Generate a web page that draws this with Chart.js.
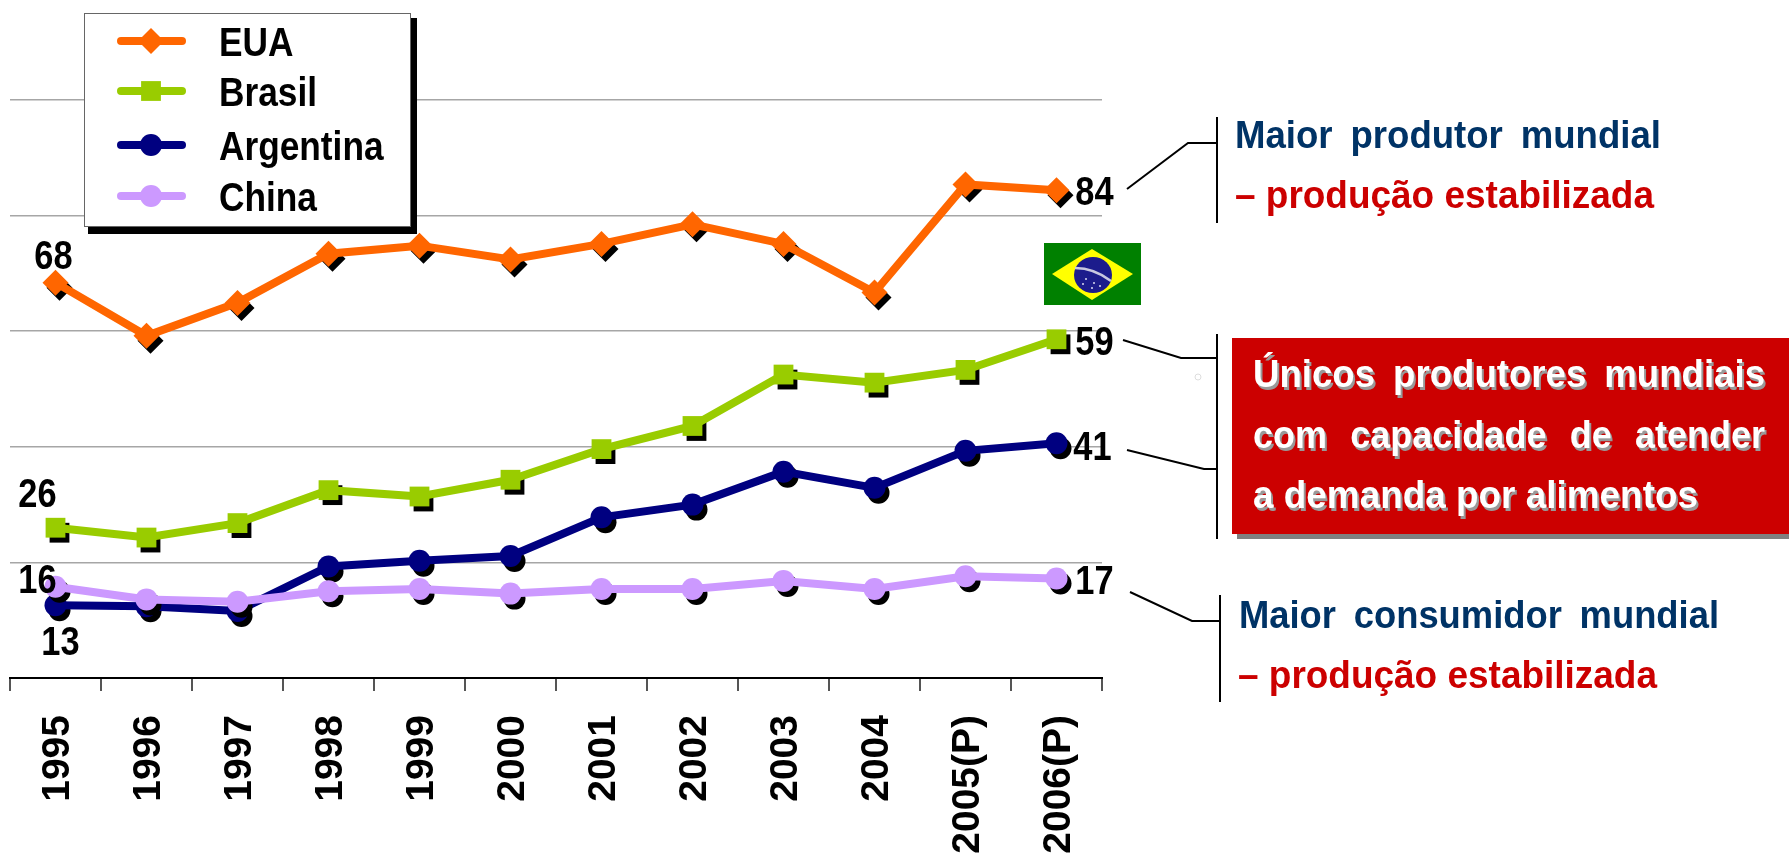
<!DOCTYPE html>
<html>
<head>
<meta charset="utf-8">
<title>Produção de soja</title>
<script src="https://cdn.jsdelivr.net/npm/chart.js@4"></script>
<style>
  html, body { margin: 0; padding: 0; background: #fff; overflow: hidden; }
  #wrap { position: relative; width: 1789px; height: 857px; }
  #chart { position: absolute; left: 0; top: 0; }
  #notes { position: absolute; left: 0; top: 0; }
  #notes text { font-family: "Liberation Sans", Arial, sans-serif; font-weight: bold; font-size: 38px; }
</style>
</head>
<body>
<div id="wrap">
  <canvas id="chart" width="1789" height="857"></canvas>
  <svg id="notes" width="1789" height="857" xmlns="http://www.w3.org/2000/svg">
    <!-- bandeira -->
    <rect x="1044" y="243" width="97" height="62" fill="#008000"/>
    <polygon points="1092,249 1133,274 1092,300 1052,274" fill="#ffff00"/>
    <ellipse cx="1093" cy="275" rx="19" ry="18" fill="#1c1c8c"/>
    <path d="M1075 268 Q1094 268 1111 281" stroke="#c8c8e0" stroke-width="2.5" fill="none"/>
    <g fill="#d8d8f0">
      <circle cx="1086" cy="279" r="1"/><circle cx="1094" cy="283" r="1"/><circle cx="1100" cy="286" r="1"/>
      <circle cx="1092" cy="288" r="1"/><circle cx="1083" cy="284" r="1"/>
    </g>

    <!-- ligacoes -->
    <g fill="none" stroke="#000" stroke-width="2">
      <path d="M1217 117V223M1127 189L1188 143H1217"/>
      <path d="M1217 334V539M1123 340L1181 358H1217M1127 450L1204 469H1217"/>
      <path d="M1220 595V702M1130 592L1192 621H1220"/>
    </g>
    <circle cx="1198" cy="377" r="3" fill="#fff" stroke="#ddd"/>

    <!-- caixa vermelha -->
    <rect x="1237" y="343" width="552" height="196" fill="#808080"/>
    <rect x="1232" y="338" width="557" height="196" fill="#cc0000"/>

    <text x="1235" y="148" fill="#003366" word-spacing="8" textLength="426" lengthAdjust="spacingAndGlyphs">Maior produtor mundial</text>
    <text x="1235" y="208" fill="#cc0000" textLength="419" lengthAdjust="spacingAndGlyphs">– produção estabilizada</text>

    <g fill="#999" transform="translate(2 3)">
      <text x="1253" y="387" word-spacing="8" textLength="512" lengthAdjust="spacingAndGlyphs">Únicos produtores mundiais</text>
      <text x="1253" y="448" word-spacing="14" textLength="512" lengthAdjust="spacingAndGlyphs">com capacidade de atender</text>
      <text x="1253" y="508" textLength="445" lengthAdjust="spacingAndGlyphs">a demanda por alimentos</text>
    </g>
    <g fill="#fff">
      <text x="1253" y="387" word-spacing="8" textLength="512" lengthAdjust="spacingAndGlyphs">Únicos produtores mundiais</text>
      <text x="1253" y="448" word-spacing="14" textLength="512" lengthAdjust="spacingAndGlyphs">com capacidade de atender</text>
      <text x="1253" y="508" textLength="445" lengthAdjust="spacingAndGlyphs">a demanda por alimentos</text>
    </g>

    <text x="1239" y="628" fill="#003366" word-spacing="8" textLength="480" lengthAdjust="spacingAndGlyphs">Maior consumidor mundial</text>
    <text x="1238" y="688" fill="#cc0000" textLength="419" lengthAdjust="spacingAndGlyphs">– produção estabilizada</text>
  </svg>
</div>

<script>
const years = ['1995', '1996', '1997', '1998', '1999', '2000', '2001', '2002', '2003', '2004', '2005(P)', '2006(P)'];

const eua = [68.4, 59.2, 64.9, 73.4, 74.8, 72.4, 75.1, 78.5, 75.1, 66.7, 85.4, 84.4];
const brasil = [26, 24.3, 26.8, 32.5, 31.4, 34.3, 39.6, 43.6, 52.5, 51.1, 53.3, 58.6];
const argentina = [12.6, 12.4, 11.6, 19.3, 20.3, 21.1, 27.8, 30, 35.7, 32.9, 39.3, 40.6];
const china = [15.8, 13.6, 13.2, 15, 15.4, 14.6, 15.4, 15.4, 16.8, 15.4, 17.6, 17.2];

const yTicks = [0, 20, 40, 60, 80, 100];

const FONT = '"Liberation Sans", Arial, sans-serif';

function series(label, data, color, style, radius, order) {
  return {
    label: label,
    data: data,
    borderColor: color,
    backgroundColor: color,
    borderWidth: 8,
    tension: 0,
    pointStyle: style,
    pointRadius: radius,
    pointHoverRadius: radius,
    pointBorderWidth: 0,
    pointBackgroundColor: color,
    order: order
  };
}

// onde fica o rotulo em relacao ao ponto (primeiro e ultimo ano)
const labelOffsets = {
  EUA: [[-2, -25], [38, 4]],
  Brasil: [[-18, -32], [38, 4]],
  Argentina: [[5, 39], [36, 5]],
  China: [[-18, -5], [38, 4]]
};

// sombra preta dos marcadores, so no ponto e nao na linha
const markerShadow = {
  id: 'markerShadow',
  beforeDatasetDraw(chart, args) {
    const ds = chart.data.datasets[args.index];
    const ctx = chart.ctx;
    ctx.save();
    ctx.fillStyle = '#000';
    args.meta.data.forEach(pt => {
      Chart.helpers.drawPoint(ctx, { pointStyle: ds.pointStyle, rotation: 0, radius: ds.pointRadius, borderWidth: 0 }, pt.x + 4, pt.y + 5);
    });
    ctx.restore();
  }
};

function squeezedText(ctx, text, x, y, sx) {
  ctx.save();
  ctx.translate(x, y);
  ctx.scale(sx, 1);
  ctx.fillText(text, 0, 0);
  ctx.restore();
}

const endLabels = {
  id: 'endLabels',
  afterDatasetsDraw(chart) {
    const ctx = chart.ctx;
    ctx.save();
    ctx.font = 'bold 41px ' + FONT;
    ctx.fillStyle = '#000';
    ctx.textAlign = 'center';
    ctx.textBaseline = 'middle';
    chart.data.datasets.forEach((ds, i) => {
      const pts = chart.getDatasetMeta(i).data;
      const off = labelOffsets[ds.label];
      const last = pts.length - 1;
      squeezedText(ctx, String(Math.round(ds.data[0])), pts[0].x + off[0][0], pts[0].y + off[0][1], 0.84);
      squeezedText(ctx, String(Math.round(ds.data[last])), pts[last].x + off[1][0], pts[last].y + off[1][1], 0.84);
    });
    ctx.restore();
  }
};

// legenda em caixa com sombra, por cima do grafico
const boxLegend = {
  id: 'boxLegend',
  afterDraw(chart) {
    const ctx = chart.ctx;
    const rows = [41, 91, 145, 196];
    ctx.save();
    ctx.fillStyle = '#000';
    ctx.fillRect(88, 18, 329, 216);
    ctx.fillStyle = '#fff';
    ctx.strokeStyle = '#666';
    ctx.lineWidth = 1;
    ctx.fillRect(84, 13, 326, 213);
    ctx.strokeRect(84.5, 13.5, 326, 213);
    ctx.font = 'bold 41px ' + FONT;
    ctx.textBaseline = 'alphabetic';
    chart.data.datasets.forEach((ds, i) => {
      const y = rows[i];
      ctx.strokeStyle = ds.borderColor;
      ctx.lineWidth = 8;
      ctx.lineCap = 'round';
      ctx.beginPath();
      ctx.moveTo(121, y);
      ctx.lineTo(182, y);
      ctx.stroke();
      ctx.fillStyle = ds.borderColor;
      Chart.helpers.drawPoint(ctx, { pointStyle: ds.pointStyle, rotation: 0, radius: ds.pointRadius, borderWidth: 0 }, 151, y);
      ctx.fillStyle = '#000';
      squeezedText(ctx, ds.label, 219, y + 15, 0.86);
    });
    ctx.restore();
  }
};

window.onload = () => {
  const ctx = document.getElementById('chart').getContext('2d');

  new Chart(ctx, {
    type: 'line',
    data: {
      labels: years,
      datasets: [
        series('EUA', eua, '#ff6600', 'rectRot', 13, 4),
        series('Brasil', brasil, '#99cc00', 'rect', 14, 3),
        series('Argentina', argentina, '#000080', 'circle', 11, 2),
        series('China', china, '#cc99ff', 'circle', 11, 1)
      ]
    },
    options: {
      responsive: false,
      animation: false,
      devicePixelRatio: 1,
      layout: { autoPadding: false, padding: { left: 10, right: 687, top: 100, bottom: 0 } },
      plugins: {
        legend: { display: false },
        tooltip: { enabled: false }
      },
      scales: {
        x: {
          offset: true,
          afterFit(scale) { scale.height = 179; },
          border: { color: '#000', width: 2 },
          grid: { offset: true, drawOnChartArea: false, drawTicks: true, tickLength: 13, color: '#555', lineWidth: 2 },
          ticks: {
            autoSkip: false,
            minRotation: 90,
            maxRotation: 90,
            padding: 24,
            labelOffset: 3,
            color: '#000',
            font: { family: FONT, weight: 'bold', size: 39 }
          }
        },
        y: {
          min: yTicks[0],
          max: yTicks[yTicks.length - 1],
          afterFit(scale) { scale.width = 0; },
          afterBuildTicks(scale) { scale.ticks = yTicks.map(v => ({ value: v })); },
          border: { display: false },
          grid: { color: '#a6a6a6', lineWidth: 1.5, drawTicks: false },
          ticks: { display: false }
        }
      }
    },
    plugins: [markerShadow, endLabels, boxLegend]
  });
};
</script>
</body>
</html>
